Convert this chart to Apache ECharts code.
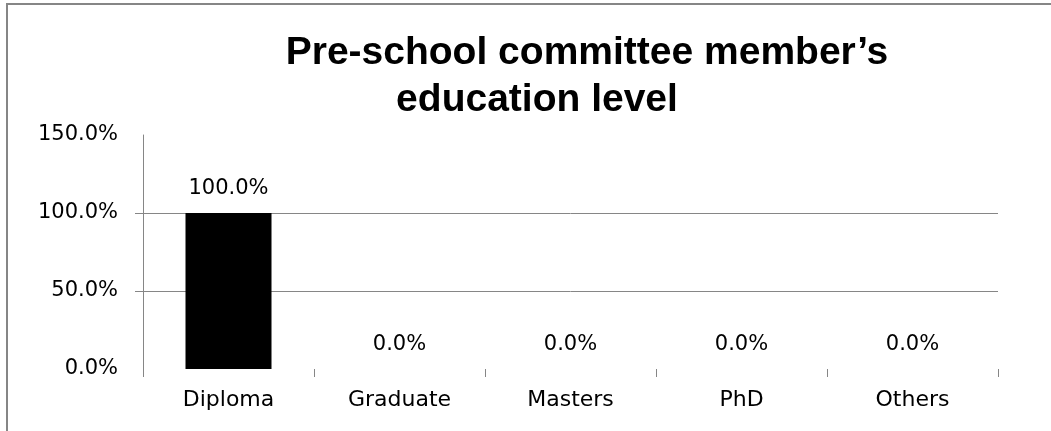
<!DOCTYPE html>
<html>
<head>
<meta charset="utf-8">
<title>Pre-school committee member's education level</title>
<script src="https://cdn.jsdelivr.net/npm/echarts@6/dist/echarts.min.js"></script>
<style>
  html, body { margin: 0; padding: 0; background: #fff; }
  #chart { width: 1051px; height: 431px; }
  /* chart frame, only top and left edges are visible in the crop */
  .frame {
    position: absolute; left: 6px; top: 3px; right: 0; bottom: 0;
    border-top: 2px solid #868686; border-left: 2px solid #868686;
    pointer-events: none;
  }
</style>
</head>
<body>
<div id="chart"></div>
<div class="frame"></div>
<script>
// data
const categories = ['Diploma', 'Graduate', 'Masters', 'PhD', 'Others'];
const percentValues = [100.0, 0.0, 0.0, 0.0, 0.0];
const titleLines = ['Pre-school committee member\u2019s', 'education level'];

const chart = echarts.init(document.getElementById('chart'));

const titleFont = { fontFamily: 'Liberation Sans', fontWeight: 'bold', fontSize: 39, color: '#000' };

const option = {
  animation: false,
  backgroundColor: '#fff',
  title: [
    { text: titleLines[0], left: 582, top: 29, textAlign: 'center', textStyle: titleFont },
    { text: titleLines[1], left: 532, top: 76, textAlign: 'center', textStyle: titleFont }
  ],
  grid: { left: 143, right: 53, top: 135, bottom: 62 },
  xAxis: {
    type: 'category',
    data: categories,
    axisLine: { show: false },
    axisTick: { show: true, length: 8, lineStyle: { color: '#868686' } },
    axisLabel: { margin: 20, fontFamily: 'DejaVu Sans', fontSize: 22, color: '#000' }
  },
  yAxis: {
    type: 'value',
    min: 0,
    max: 150,
    interval: 50,
    axisLine: { show: true, lineStyle: { color: '#868686' } },
    axisTick: { show: true, length: 8, customValues: [50, 100], lineStyle: { color: '#868686' } },
    splitLine: { show: true, lineStyle: { color: '#868686' } },
    axisLabel: {
      margin: 25,
      fontFamily: 'DejaVu Sans',
      fontSize: 21,
      color: '#000',
      formatter: v => v.toFixed(1) + '%'
    }
  },
  series: [
    {
      type: 'bar',
      data: percentValues,
      barWidth: 86,
      itemStyle: { color: '#000' },
      label: {
        show: true,
        position: 'top',
        distance: 14,
        fontFamily: 'DejaVu Sans',
        fontSize: 21,
        color: '#000',
        formatter: p => p.value.toFixed(1) + '%'
      }
    }
  ]
};

chart.setOption(option);
</script>
</body>
</html>
